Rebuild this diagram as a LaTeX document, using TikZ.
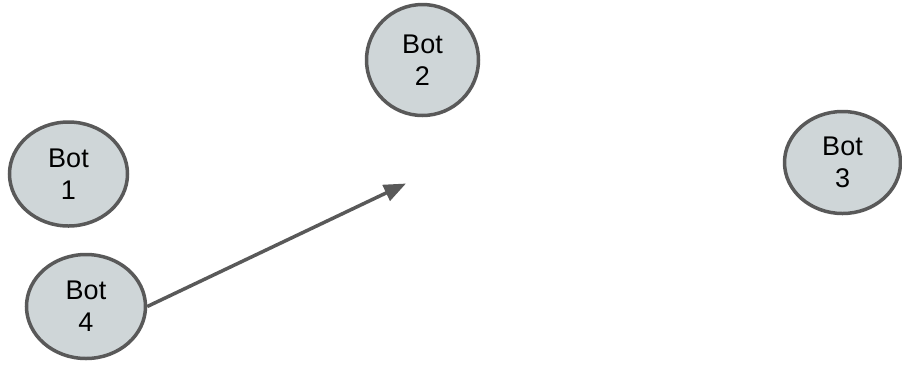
\documentclass[tikz,border=0pt]{standalone}
\usepackage{fontspec}
\setmainfont{Liberation Sans}
\usetikzlibrary{arrows.meta,shapes.geometric}

\definecolor{botfill}{RGB}{207,214,216}
\definecolor{botline}{RGB}{89,89,89}

\begin{document}
\begin{tikzpicture}[
  x=1pt, y=-1pt,
  font=\fontsize{27}{32}\selectfont,
  bot/.style={ellipse, draw=botline, fill=botfill, line width=3.5pt, inner sep=0pt, align=center},
  arrow/.style={-{Triangle[length=22pt,width=17pt]}, draw=botline, fill=botline, line width=3.5pt}
]
\useasboundingbox (0,0) rectangle (902,365);

\node[bot, minimum width=118pt, minimum height=104pt] (bot1) at (68.5,174) {Bot\\1};
\node[bot, minimum width=112pt, minimum height=111pt] (bot2) at (422.5,60) {Bot\\2};
\node[bot, minimum width=116pt, minimum height=102pt] (bot3) at (842.5,162.5) {Bot\\3};
\node[bot, minimum width=119pt, minimum height=104pt] (bot4) at (86,306.5) {Bot\\4};

\coordinate (aim) at (406,183.5);

\draw[arrow] (bot4.east) -- (aim);

\end{tikzpicture}
\end{document}
